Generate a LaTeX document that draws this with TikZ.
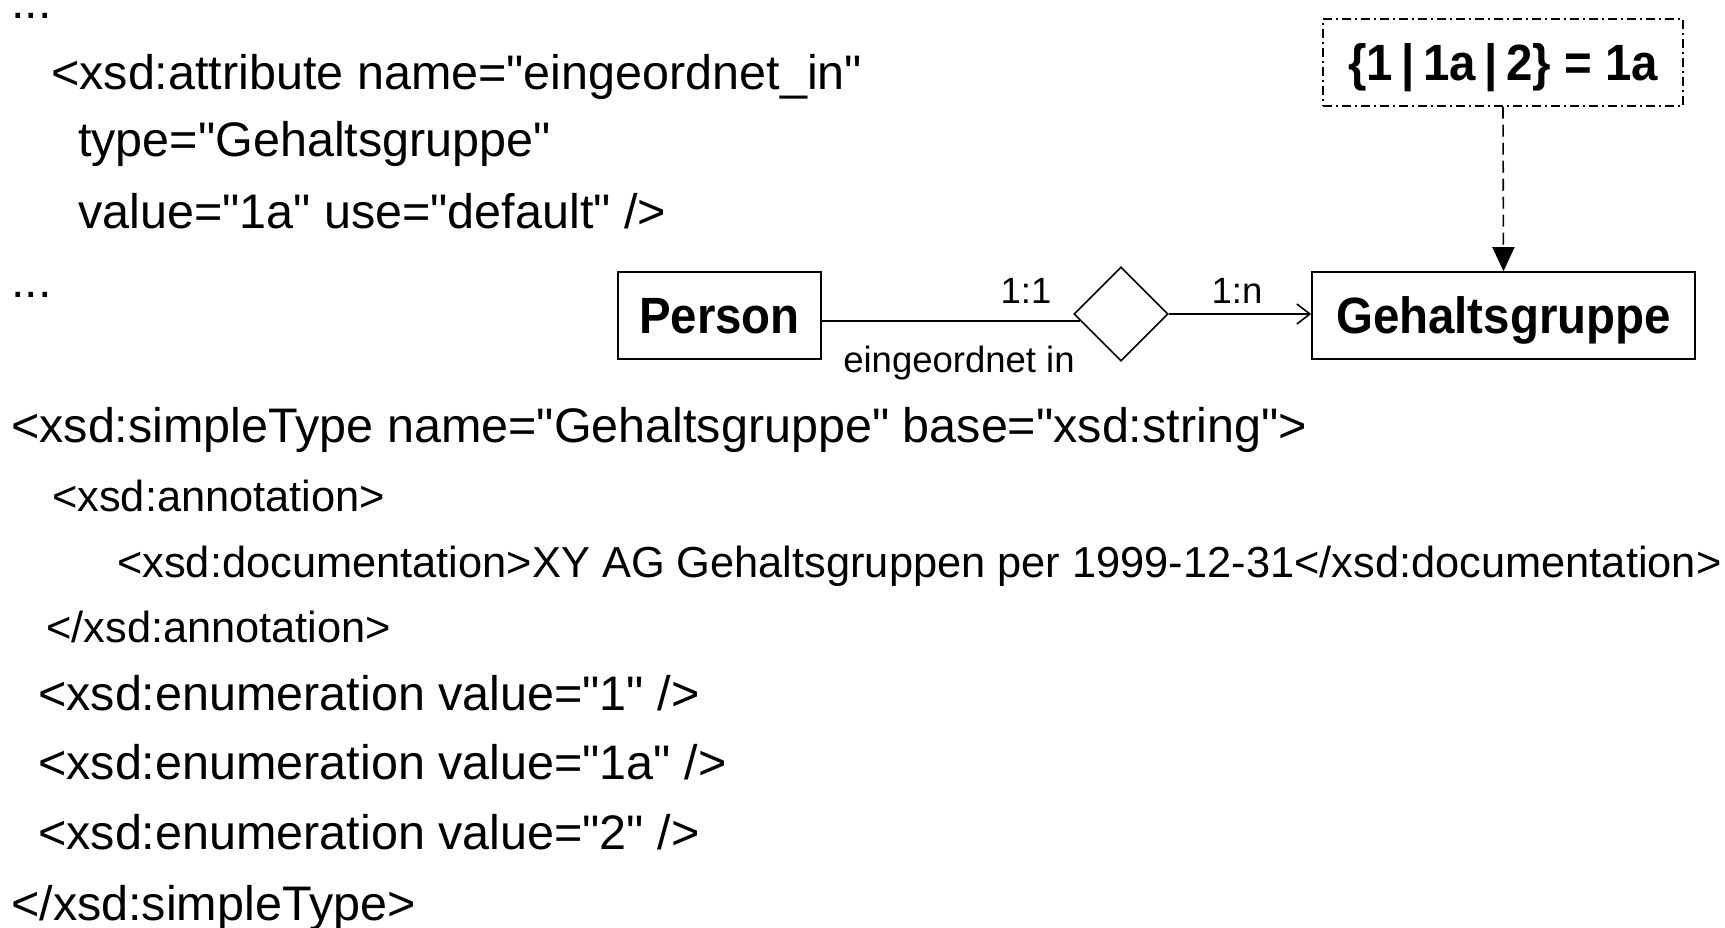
\documentclass[tikz,border=0pt]{standalone}
\usepackage{fontspec}
\setmainfont{Liberation Sans}[Ligatures=TeXOff]
\newfontfamily\diagfont{Liberation Sans}[FakeStretch=0.93,Ligatures=TeXOff]
\usetikzlibrary{arrows.meta,shapes.geometric}

\tikzset{
  code/.style={anchor=base west, inner sep=0pt, font=\fontsize{48.5}{58}\selectfont},
  codesmall/.style={anchor=base west, inner sep=0pt, font=\fontsize{43.4}{52}\selectfont},
  entity/.style={draw, line width=1.6pt, inner sep=0pt, minimum height=87pt,
    text height=36pt, text depth=0pt, font=\diagfont\bfseries\fontsize{51}{60}\selectfont},
  relship/.style={draw, diamond, line width=1.6pt, inner sep=0pt,
    minimum width=94pt, minimum height=94pt},
  notebox/.style={draw, line width=1.5pt, dash pattern=on 9pt off 4pt on 2pt off 4pt,
    inner sep=0pt, minimum width=360pt, minimum height=87pt,
    text height=36pt, text depth=0pt, font=\diagfont\bfseries\fontsize{51}{60}\selectfont},
  conn/.style={draw, line width=1.6pt},
  lbl/.style={anchor=base, inner sep=0pt, font=\fontsize{36.5}{44}\selectfont},
}

\begin{document}
\begin{tikzpicture}[x=1pt,y=-1pt]
\useasboundingbox (0,0) rectangle (1725,928);

% XML schema excerpt: attribute declaration
\node[code, text height=4pt] (dotsA) at (11,19) {...};
\node[code] (attr) at (51,90) {<xsd:attribute name="eingeordnet\_in"};
\node[code] (attrtype) at (78,157) {type="Gehaltsgruppe"};
\node[code] (attrval) at (78,229) {value="1a" use="default" />};
\node[code] (dotsB) at (11,298) {...};

% XML schema excerpt: simple type with enumeration
\node[code] (st) at (11,442) {<xsd:simpleType name="Gehaltsgruppe" base="xsd:string">};
\node[codesmall] (ann) at (52,511) {<xsd:annotation>};
\node[codesmall] (doc) at (117,577) {<xsd:documentation>XY AG Gehaltsgruppen per 1999-12-31</xsd:documentation>};
\node[codesmall] (annend) at (46,642) {</xsd:annotation>};
\node[code] (enA) at (38,710) {<xsd:enumeration value="1" />};
\node[code] (enB) at (38,779) {<xsd:enumeration value="1a" />};
\node[code] (enC) at (38,849) {<xsd:enumeration value="2" />};
\node[code] (stend) at (11,920) {</xsd:simpleType>};

% ER diagram
\node[entity, minimum width=203pt] (person) at (719.5,315.5) {Person};
\node[entity, minimum width=383pt] (geh) at (1503.5,315.5) {Gehaltsgruppe};
\node[relship] (rel) at (1121,314) {};
\node[notebox] (cons) at (1503,62.5) {\{1\,|\,1a\,|\,2\} = 1a};

\draw[conn] (person.east |- rel.190) -- (rel.190);
\draw[conn, -{Straight Barb[length=13pt,width=20pt,line width=1.6pt]}]
  (rel.east) -- (rel.east -| geh.west);
\draw[conn, dash pattern=on 12pt off 6pt, -{Triangle[length=24pt,width=22pt]}]
  (cons.south) -- (geh.north);

\node[lbl] (cardA) at (1026,303) {1:1};
\node[lbl] (cardB) at (1237,304) {1:n};
\node[lbl] (relname) at (959,372) {eingeordnet in};
\end{tikzpicture}
\end{document}
